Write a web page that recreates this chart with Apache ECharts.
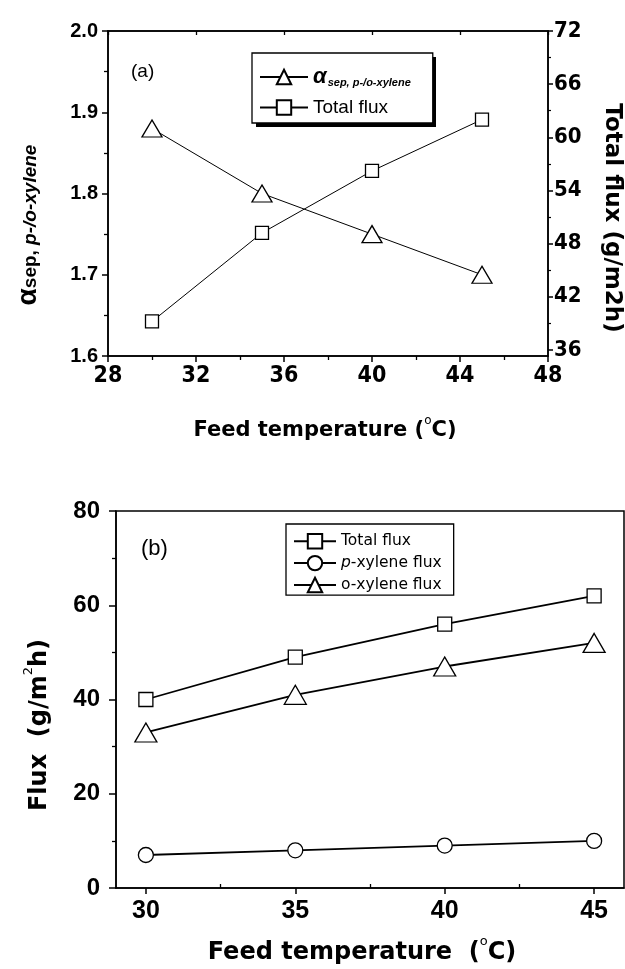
<!DOCTYPE html>
<html>
<head>
<meta charset="utf-8">
<script src="https://cdn.jsdelivr.net/npm/echarts@6/dist/echarts.min.js"></script>
<style>
  html, body { margin: 0; padding: 0; background: #fff; }
  #chart { width: 625px; height: 969px; }
</style>
</head>
<body>
<div id="chart"></div>
<script>
// Feed temperatures (°C) shared by both panels
const temps = [30, 35, 40, 45];

// Panel (a): separation factor and total flux
const alphaSep = [1.88, 1.80, 1.75, 1.70];
const totalFluxA = [39.2, 49.2, 56.2, 62.0];

// Panel (b): component fluxes (g/m2h)
const totalFluxB = [40, 49, 56, 62];
const pXyleneFlux = [7, 8, 9, 10];
const oXyleneFlux = [33, 41, 47, 52];

// Tick values
const fluxRightTicks = [36, 42, 48, 54, 60, 66, 72];
const fluxRightMinor = [39, 45, 51, 57, 63, 69];
const tempTicksB = [30, 35, 40, 45];
const tempMinorB = [32.5, 37.5, 42.5];

const SANS = '"Liberation Sans", Arial, sans-serif';
const WIDE = '"DejaVu Sans", sans-serif';
const NARROW = '"Liberation Sans Narrow", "DejaVu Sans Condensed", sans-serif';
const INK = '#000';

const pair = (xs, ys) => xs.map((x, i) => [x, ys[i]]);

function lineSeries(name, xi, yi, ys, symbol, size, lw) {
  return {
    type: 'line', name, xAxisIndex: xi, yAxisIndex: yi,
    data: pair(temps, ys), symbol, symbolSize: size, showAllSymbol: true,
    itemStyle: { color: '#fff', borderColor: INK, borderWidth: 1.3 },
    lineStyle: { color: INK, width: lw },
    emphasis: { disabled: true }, z: 3
  };
}

const axisLine = { show: true, onZero: false, lineStyle: { color: INK, width: 1.5 } };
const noSplit = { show: false };

// Legend box of panel (a) and its drop shadow
const legendA = { left: 252, top: 53, width: 180, height: 70 };

const chart = echarts.init(document.getElementById('chart'), null, { renderer: 'canvas' });

chart.setOption({
  animation: false,
  backgroundColor: '#fff',
  grid: [
    { left: 108, top: 31, width: 440, height: 325, show: true, borderColor: INK, borderWidth: 1.5, backgroundColor: 'transparent' },
    { left: 116, top: 511, width: 508, height: 377, show: true, borderColor: INK, borderWidth: 1.5, backgroundColor: 'transparent' }
  ],
  xAxis: [
    { // (a) bottom
      type: 'value', gridIndex: 0, min: 28, max: 48, interval: 4,
      axisLine, splitLine: noSplit,
      axisTick: { show: true, inside: false, length: 6, lineStyle: { color: INK, width: 1.5 } },
      minorTick: { show: true, splitNumber: 2, length: 4, lineStyle: { color: INK, width: 1.3 } },
      axisLabel: { color: INK, fontFamily: NARROW, fontWeight: 'bold', fontSize: 23, margin: 9 }
    },
    { // (a) top
      type: 'value', gridIndex: 0, position: 'top', min: 28, max: 48, interval: 4,
      axisLine, splitLine: noSplit,
      axisTick: { show: true, inside: true, length: 4, lineStyle: { color: INK, width: 1.3 } },
      axisLabel: { show: false }
    },
    { // (b) bottom
      type: 'value', gridIndex: 1, min: 29, max: 46,
      axisLine, splitLine: noSplit,
      axisTick: { show: true, inside: false, length: 6, customValues: tempTicksB, lineStyle: { color: INK, width: 1.5 } },
      axisLabel: { color: INK, fontFamily: SANS, fontWeight: 'bold', fontSize: 25, margin: 11, customValues: tempTicksB }
    },
    { // (b) bottom minor ticks
      type: 'value', gridIndex: 1, min: 29, max: 46,
      axisLine: { show: false }, splitLine: noSplit,
      axisTick: { show: true, inside: false, length: 4, customValues: tempMinorB, lineStyle: { color: INK, width: 1.3 } },
      axisLabel: { show: false, customValues: tempMinorB }
    }
  ],
  yAxis: [
    { // (a) left
      type: 'value', gridIndex: 0, min: 1.6, max: 2.0, interval: 0.1,
      axisLine, splitLine: noSplit,
      axisTick: { show: true, inside: false, length: 6, lineStyle: { color: INK, width: 1.5 } },
      minorTick: { show: true, splitNumber: 2, length: 4, lineStyle: { color: INK, width: 1.3 } },
      axisLabel: { color: INK, fontFamily: SANS, fontWeight: 'bold', fontSize: 20, margin: 10,
        formatter: v => v.toFixed(1) }
    },
    { // (a) right
      type: 'value', gridIndex: 0, position: 'right', min: 35.3, max: 72,
      axisLine, splitLine: noSplit,
      axisTick: { show: true, inside: false, length: 5, customValues: fluxRightTicks, lineStyle: { color: INK, width: 1.5 } },
      axisLabel: { color: INK, fontFamily: NARROW, fontWeight: 'bold', fontSize: 22, margin: 6, customValues: fluxRightTicks }
    },
    { // (a) right minor ticks
      type: 'value', gridIndex: 0, position: 'right', min: 35.3, max: 72,
      axisLine: { show: false }, splitLine: noSplit,
      axisTick: { show: true, inside: false, length: 3, customValues: fluxRightMinor, lineStyle: { color: INK, width: 1.2 } },
      axisLabel: { show: false, customValues: fluxRightMinor }
    },
    { // (b) left
      type: 'value', gridIndex: 1, min: 0, max: 80, interval: 20,
      axisLine, splitLine: noSplit,
      axisTick: { show: true, inside: false, length: 7, lineStyle: { color: INK, width: 1.5 } },
      minorTick: { show: true, splitNumber: 2, length: 4, lineStyle: { color: INK, width: 1.3 } },
      axisLabel: { color: INK, fontFamily: SANS, fontWeight: 'bold', fontSize: 24, margin: 16 }
    }
  ],
  legend: [
    {
      left: legendA.left, top: legendA.top, orient: 'vertical',
      data: ['alpha', 'fluxA'],
      itemWidth: 48, itemHeight: 18, itemGap: 10,
      padding: [11, 22, 6, 7],
      backgroundColor: '#fff', borderColor: INK, borderWidth: 1.3,
      selectedMode: false, z: 6,
      formatter: n => n === 'alpha' ? '{a|α}{s|sep, p-/o-xylene}' : 'Total flux',
      textStyle: {
        color: INK, fontFamily: SANS, fontSize: 19,
        rich: {
          a: { fontFamily: SANS, fontSize: 22, fontWeight: 'bold', fontStyle: 'italic', lineHeight: 22, verticalAlign: 'top' },
          s: { fontFamily: SANS, fontSize: 11, fontWeight: 'bold', fontStyle: 'italic', lineHeight: 11, padding: [13, 0, 0, 1], verticalAlign: 'bottom' }
        }
      }
    },
    {
      left: 286, top: 524, orient: 'vertical',
      data: ['fluxB', 'pFlux', 'oFlux'],
      itemWidth: 42, itemHeight: 18, itemGap: 5.5,
      padding: [9, 12, 2, 7],
      backgroundColor: '#fff', borderColor: INK, borderWidth: 1.3,
      selectedMode: false,
      formatter: n => n === 'fluxB' ? 'Total flux' : (n === 'pFlux' ? '{i|p}-xylene flux' : 'o-xylene flux'),
      textStyle: {
        color: INK, fontFamily: WIDE, fontSize: 15.5,
        rich: { i: { fontFamily: WIDE, fontSize: 15.5, fontStyle: 'italic' } }
      }
    }
  ],
  series: [
    lineSeries('alpha', 0, 0, alphaSep, 'triangle', [20, 17], 1),
    lineSeries('fluxA', 0, 1, totalFluxA, 'rect', 13, 1),
    lineSeries('fluxB', 2, 3, totalFluxB, 'rect', 14, 1.8),
    lineSeries('pFlux', 2, 3, pXyleneFlux, 'circle', 15, 1.8),
    lineSeries('oFlux', 2, 3, oXyleneFlux, 'triangle', [22, 19], 1.8)
  ],
  graphic: [
    { // drop shadow behind the panel (a) legend
      type: 'rect', z: 5,
      shape: { x: legendA.left + 4, y: legendA.top + 4, width: legendA.width, height: legendA.height },
      style: { fill: INK }
    },
    { type: 'text', left: 131, top: 62, style: { text: '(a)', font: '19px ' + SANS, fill: INK } },
    { type: 'text', left: 141, top: 538, style: { text: '(b)', font: '22px ' + SANS, fill: INK } },
    { // (a) left axis title
      type: 'text', x: 27, y: 225, rotation: Math.PI / 2,
      style: {
        text: '{a|α}{s|sep, }{i|p-/o-xylene}', align: 'center', verticalAlign: 'middle', fill: INK,
        rich: {
          a: { fontFamily: SANS, fontSize: 28, fontWeight: 'bold', lineHeight: 26, verticalAlign: 'top' },
          s: { fontFamily: SANS, fontSize: 19, fontWeight: 'bold', lineHeight: 19, padding: [15, 0, 0, 0], verticalAlign: 'bottom' },
          i: { fontFamily: SANS, fontSize: 19, fontWeight: 'bold', fontStyle: 'italic', lineHeight: 19, padding: [15, 0, 0, 0], verticalAlign: 'bottom' }
        }
      }
    },
    { // (a) right axis title
      type: 'text', x: 612, y: 218, rotation: -Math.PI / 2,
      style: { text: 'Total flux (g/m2h)', align: 'center', verticalAlign: 'middle', fill: INK,
        font: 'bold 23px ' + WIDE }
    },
    { // (a) x axis title
      type: 'text', x: 325, y: 428,
      style: {
        text: '{t|Feed temperature (}{o|o}{t|C)}', align: 'center', verticalAlign: 'middle', fill: INK,
        rich: {
          t: { fontFamily: WIDE, fontSize: 21, fontWeight: 'bold', lineHeight: 26, verticalAlign: 'bottom' },
          o: { fontFamily: WIDE, fontSize: 12, lineHeight: 12, verticalAlign: 'top' }
        }
      }
    },
    { // (b) left axis title
      type: 'text', x: 37, y: 725, rotation: Math.PI / 2,
      style: {
        text: '{t|Flux  (g/m}{s|2}{t|h)}', align: 'center', verticalAlign: 'middle', fill: INK,
        rich: {
          t: { fontFamily: WIDE, fontSize: 24, fontWeight: 'bold', lineHeight: 30, verticalAlign: 'bottom' },
          s: { fontFamily: WIDE, fontSize: 13, lineHeight: 13, verticalAlign: 'top' }
        }
      }
    },
    { // (b) x axis title
      type: 'text', x: 362, y: 950,
      style: {
        text: '{t|Feed temperature  (}{o|o}{t|C)}', align: 'center', verticalAlign: 'middle', fill: INK,
        rich: {
          t: { fontFamily: WIDE, fontSize: 24, fontWeight: 'bold', lineHeight: 30, verticalAlign: 'bottom' },
          o: { fontFamily: WIDE, fontSize: 13, lineHeight: 13, verticalAlign: 'top' }
        }
      }
    }
  ]
});
</script>
</body>
</html>
